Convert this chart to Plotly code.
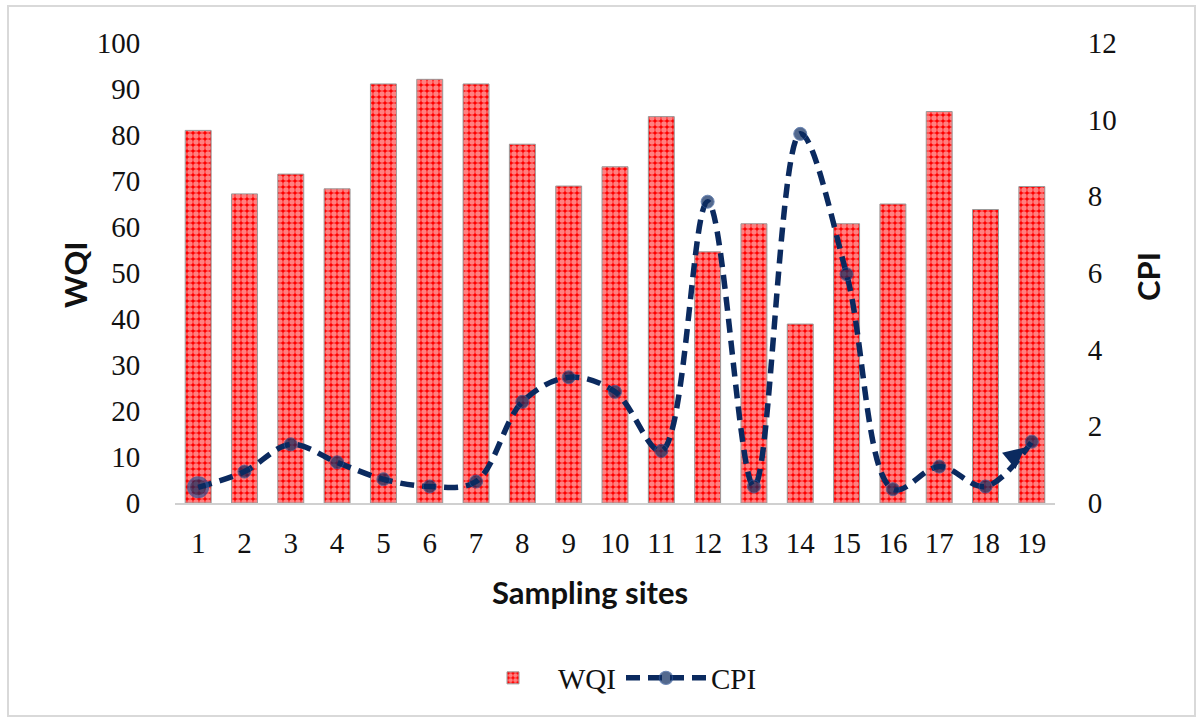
import plotly.graph_objects as go

# ---- data ----
sites = [str(i) for i in range(1, 20)]
wqi = [81.0, 67.2, 71.5, 68.3, 91.1, 92.1, 91.1, 78.0, 68.9, 73.1,
       84.0, 54.6, 60.7, 38.9, 60.7, 65.0, 85.1, 63.8, 68.8]
cpi = [0.41, 0.82, 1.53, 1.06, 0.62, 0.43, 0.56, 2.64, 3.28, 2.90,
       1.36, 7.86, 0.43, 9.63, 5.97, 0.36, 0.95, 0.43, 1.60]
wqi_ticks = list(range(0, 101, 10))
cpi_ticks = list(range(0, 13, 2))

# ---- layout geometry (pixels) ----
W, H = 1201, 722
L, R, T, B = 175, 1055, 43, 503


def px_x(p):
    return (p - L) / (R - L)


def px_y(p):
    return (B - p) / (B - T)


NAVY = "#0b2a5f"
SERIF = "Liberation Serif"
SANS = "Lato"

fig = go.Figure()
fig.add_trace(go.Bar(
    x=sites, y=wqi, name="WQI", width=0.56,
    marker=dict(
        color="#ff0000",
        line=dict(color="#9a9a9a", width=1),
        pattern=dict(shape=".", fgcolor="#ffffff", size=6, solidity=0.65,
                     fillmode="overlay"),
    ),
))
fig.add_trace(go.Scatter(
    x=sites, y=cpi, name="CPI", yaxis="y2", mode="lines+markers",
    line=dict(color=NAVY, width=5.5, dash="14px,8px", shape="spline", smoothing=1),
    marker=dict(size=[19] + [13] * 18, color=NAVY,
                line=dict(color="#2f5597", width=[3] + [1] * 18)),
))

# arrow head at the end of the CPI line (category index of the last site)
fig.add_annotation(x=len(sites) - 1, y=cpi[-1], xref="x", yref="y2", text="",
                   showarrow=True, arrowhead=2, arrowsize=1.4, arrowwidth=3,
                   arrowcolor=NAVY, ax=-24, ay=20, standoff=9)

tick_font = dict(family=SERIF, size=29, color="#111111")
title_font = dict(family=SANS, size=31, color="#111111", weight="bold")

fig.add_annotation(x=px_x(590), y=px_y(592), xref="paper", yref="paper",
                   text="<b>Sampling sites</b>", showarrow=False,
                   font=title_font, xanchor="center", yanchor="middle")
fig.add_annotation(x=px_x(75), y=px_y(275), xref="paper", yref="paper",
                   text="<b>WQI</b>", showarrow=False, textangle=-90,
                   font=title_font, xanchor="center", yanchor="middle")
fig.add_annotation(x=px_x(1148), y=px_y(277), xref="paper", yref="paper",
                   text="<b>CPI</b>", showarrow=False, textangle=-90,
                   font=title_font, xanchor="center", yanchor="middle")

fig.add_shape(type="rect", xref="paper", yref="paper",
              x0=px_x(8), x1=px_x(1195), y0=px_y(716), y1=px_y(6),
              line=dict(color="#d9d9d9", width=2), layer="below")

fig.update_layout(
    width=W, height=H,
    margin=dict(l=L, r=W - R, t=T, b=H - B),
    paper_bgcolor="white", plot_bgcolor="white",
    showlegend=True,
    legend=dict(orientation="h", x=0.5, xanchor="center",
                y=px_y(678), yanchor="middle",
                font=dict(family=SERIF, size=29, color="#111111"),
                itemwidth=80, traceorder="normal"),
    bargap=0.44,
    xaxis=dict(range=[-0.5, len(sites) - 0.5], autorange=False,
               showline=True, linecolor="#d0d0d0", linewidth=2,
               showgrid=False, zeroline=False,
               ticks="outside", ticklen=13, tickcolor="rgba(0,0,0,0)",
               tickfont=tick_font),
    yaxis=dict(range=[0, 100], tickvals=wqi_ticks, showgrid=False,
               zeroline=False, showline=False,
               ticks="outside", ticklen=28, tickcolor="rgba(0,0,0,0)",
               tickfont=tick_font),
    yaxis2=dict(range=[0, 12], tickvals=cpi_ticks, overlaying="y",
                side="right", showgrid=False, zeroline=False, showline=False,
                ticks="outside", ticklen=26, tickcolor="rgba(0,0,0,0)",
                tickfont=tick_font),
)

fig.write_html("out.html")
